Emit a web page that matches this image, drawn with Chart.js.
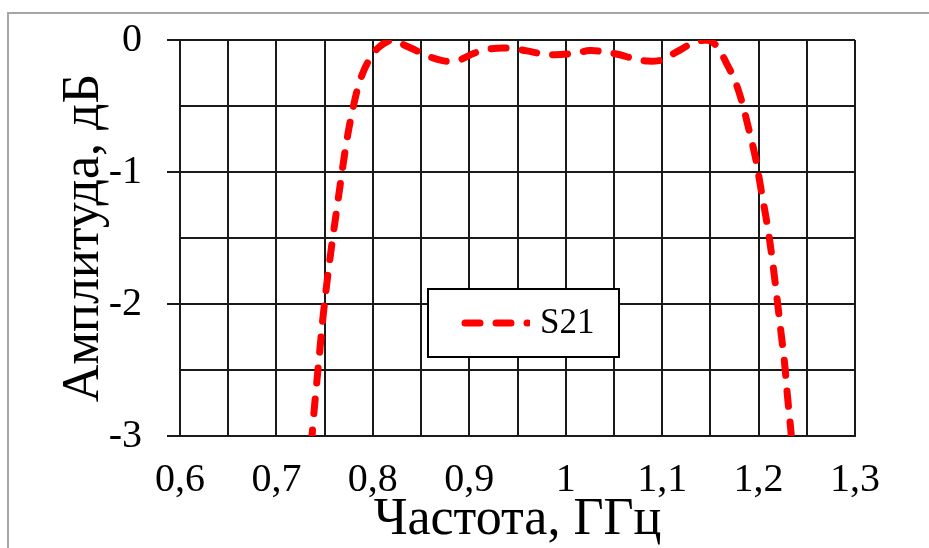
<!DOCTYPE html>
<html>
<head>
<meta charset="utf-8">
<script src="https://cdn.jsdelivr.net/npm/chart.js@4.4.1/dist/chart.umd.min.js"></script>
<style>
  body { margin: 0; background: #fff; }
</style>
</head>
<body>
<canvas id="s21-chart" width="929" height="548"></canvas>
<script>
// frequency points (GHz) and measured S21 (dB)
const freqGHz = [
  0.734, 0.738, 0.742, 0.745, 0.748, 0.753, 0.758, 0.763, 0.768, 0.773,
  0.779, 0.787, 0.797, 0.807, 0.820, 0.830, 0.845, 0.860, 0.875, 0.890,
  0.905, 0.920, 0.935, 0.950, 0.965, 0.980, 0.995, 1.010, 1.025, 1.040,
  1.055, 1.070, 1.085, 1.100, 1.115, 1.133, 1.147, 1.157, 1.167, 1.175,
  1.182, 1.190, 1.197, 1.203, 1.209, 1.214, 1.219, 1.223, 1.227, 1.230,
  1.234, 1.237
];
const s21dB = [
  -3.3, -2.9, -2.58, -2.35, -2.12, -1.8, -1.52, -1.26, -1.0, -0.76,
  -0.53, -0.3, -0.14, -0.05, 0.0, -0.03, -0.08, -0.13, -0.16, -0.15,
  -0.1, -0.07, -0.06, -0.07, -0.09, -0.11, -0.11, -0.1, -0.08, -0.09,
  -0.11, -0.14, -0.16, -0.15, -0.09, -0.02, 0.0, -0.05, -0.18, -0.3,
  -0.45, -0.68, -0.9, -1.15, -1.4, -1.65, -1.95, -2.2, -2.45, -2.7,
  -3.0, -3.3
];

// axis ticks: grid every half step, labels on whole steps
const xTickValues = [0.6, 0.7, 0.8, 0.9, 1.0, 1.1, 1.2, 1.3];
const xTickLabels = ['0,6', '0,7', '0,8', '0,9', '1', '1,1', '1,2', '1,3'];
const yTickValues = [0, -1, -2, -3];
const yTickLabels = ['0', '-1', '-2', '-3'];

const serif = 'Liberation Serif';
const gridColor = '#1a1a1a';

function tickLabel(values, labels, v) {
  const i = values.indexOf(Math.round(v * 100) / 100);
  return i >= 0 ? labels[i] : '';
}

// white page with the light grey frame round the chart
const frame = {
  id: 'frame',
  beforeDraw(chart) {
    const ctx = chart.ctx;
    ctx.save();
    ctx.fillStyle = '#fff';
    ctx.fillRect(0, 0, chart.width, chart.height);
    ctx.strokeStyle = '#a6a6a6';
    ctx.lineWidth = 2;
    ctx.strokeRect(8, 13, chart.width + 20, chart.height + 20);
    ctx.restore();
  }
};

// boxed legend sitting inside the plot
const boxLegend = {
  id: 'boxLegend',
  afterDraw(chart) {
    const ctx = chart.ctx;
    const ds = chart.data.datasets[0];
    const x = 428, y = 289, w = 191, h = 68;
    ctx.save();
    ctx.fillStyle = '#fff';
    ctx.strokeStyle = '#000';
    ctx.lineWidth = 2;
    ctx.fillRect(x, y, w, h);
    ctx.strokeRect(x, y, w, h);
    const my = y + h / 2;
    ctx.beginPath();
    ctx.rect(x + 2, y + 2, 100, h - 4);
    ctx.clip();
    ctx.strokeStyle = ds.borderColor;
    ctx.lineWidth = ds.borderWidth;
    ctx.lineCap = 'round';
    ctx.setLineDash(ds.borderDash);
    ctx.beginPath();
    ctx.moveTo(x + 37, my);
    ctx.lineTo(x + 100, my);
    ctx.stroke();
    ctx.restore();
    ctx.save();
    ctx.fillStyle = '#000';
    ctx.font = '35px "' + serif + '"';
    ctx.textBaseline = 'middle';
    ctx.fillText(ds.label, x + 112, my + 1);
    ctx.restore();
  }
};

const points = freqGHz.map((f, i) => ({ x: f, y: s21dB[i] }));

new Chart(document.getElementById('s21-chart').getContext('2d'), {
  type: 'line',
  data: {
    datasets: [{
      label: 'S21',
      data: points,
      borderColor: '#ff0000',
      borderWidth: 7,
      borderDash: [15, 16],
      borderCapStyle: 'round',
      pointRadius: 0,
      tension: 0.35,
      fill: false
    }]
  },
  options: {
    responsive: false,
    animation: false,
    layout: { padding: { left: 8, top: 40, right: 74, bottom: 0 } },
    plugins: {
      legend: { display: false },
      tooltip: { enabled: false }
    },
    scales: {
      x: {
        type: 'linear',
        min: 0.6,
        max: 1.3,
        afterFit(scale) { scale.height = 112; },
        grid: { color: gridColor, lineWidth: 2, drawTicks: false },
        border: { color: gridColor, width: 2 },
        ticks: {
          stepSize: 0.05,
          autoSkip: false,
          maxRotation: 0,
          padding: 20,
          color: '#000',
          font: { family: serif, size: 40 },
          callback: v => tickLabel(xTickValues, xTickLabels, v)
        },
        title: {
          display: true,
          text: 'Частота, ГГц',
          color: '#000',
          font: { family: serif, size: 52, lineHeight: 1 },
          padding: { top: 0, bottom: 2 }
        }
      },
      y: {
        min: -3,
        max: 0,
        afterFit(scale) {
          scale.width = 172;
          scale.paddingTop = 0;
          scale.paddingBottom = 0;
        },
        grid: {
          color: gridColor,
          lineWidth: 2,
          tickLength: 13,
          tickColor: c => Number.isInteger(Math.round(c.tick.value * 100) / 100) ? gridColor : 'rgba(0,0,0,0)'
        },
        border: { color: gridColor, width: 2 },
        ticks: {
          stepSize: 0.5,
          autoSkip: false,
          padding: 25,
          color: '#000',
          font: { family: serif, size: 40 },
          callback: v => tickLabel(yTickValues, yTickLabels, v)
        },
        title: {
          display: true,
          text: 'Амплитуда, дБ',
          color: '#000',
          font: { family: serif, size: 52, lineHeight: 1 },
          padding: { top: 50, bottom: 0 }
        }
      }
    }
  },
  plugins: [frame, boxLegend]
});
</script>
</body>
</html>
